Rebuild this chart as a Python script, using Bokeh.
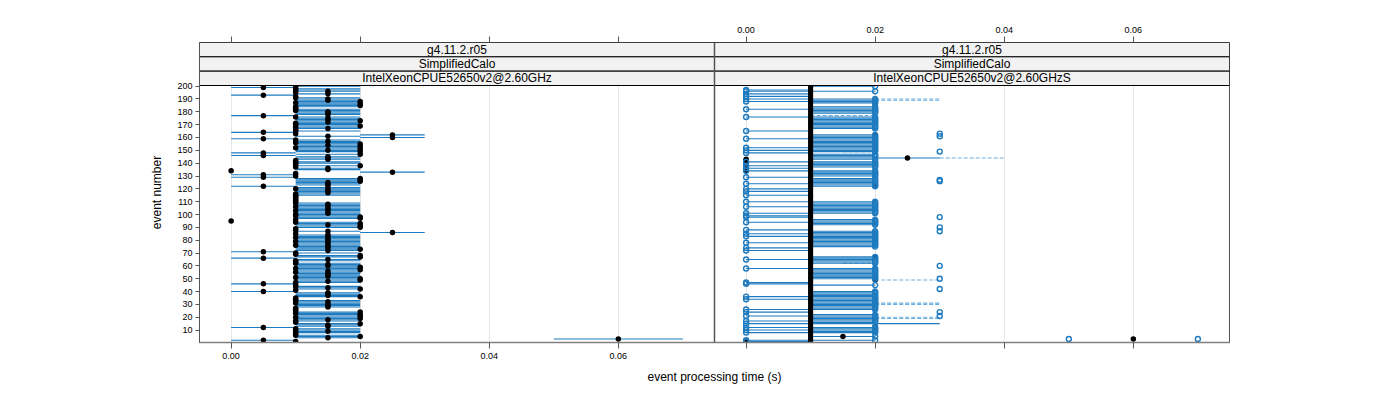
from bokeh.plotting import figure
from bokeh.models import Range1d, FixedTicker, LinearAxis, Span
from bokeh.embed import file_html
from bokeh.resources import INLINE
from bokeh.core.properties import value

# ---------------- data (times in milliseconds) ----------------
events = list(range(1, 201))

strip_rows = ["g4.11.2.r05", "SimplifiedCalo"]
panel_hosts = ["IntelXeonCPUE52650v2@2.60GHz", "IntelXeonCPUE52650v2@2.60GHzS"]

# left panel: median per event and its range
left_val = [
    10, 5, 60, 15, 20, 10, 10, 10, 15, 10,
    10, 5, 15, 15, 20, 10, 10, 15, 20, 10,
    20, 20, 10, 20, 10, 10, 10, 15, 15, 15,
    10, 15, 10, 10, 10, 20, 15, 15, 15, 5,
    10, 20, 15, 10, 10, 5, 10, 15, 20, 20,
    10, 15, 15, 15, 10, 15, 20, 10, 20, 15,
    15, 10, 10, 10, 15, 5, 20, 20, 10, 10,
    5, 15, 20, 15, 15, 10, 15, 15, 10, 15,
    15, 10, 15, 15, 10, 25, 15, 10, 10, 20,
    20, 15, 20, 10, 0, 10, 20, 20, 10, 10,
    15, 15, 10, 15, 15, 10, 15, 15, 10, 10,
    10, 10, 10, 10, 10, 10, 15, 15, 15, 10,
    15, 5, 15, 15, 15, 20, 20, 20, 5, 10,
    5, 10, 25, 0, 15, 15, 10, 20, 10, 10,
    10, 10, 15, 15, 15, 5, 20, 5, 20, 15,
    20, 10, 20, 15, 20, 10, 15, 10, 5, 25,
    15, 25, 10, 5, 10, 10, 15, 10, 20, 10,
    10, 15, 20, 15, 15, 10, 5, 15, 15, 15,
    10, 10, 10, 10, 20, 20, 10, 20, 15, 15,
    10, 10, 5, 15, 10, 15, 10, 10, 5, 10,
]
left_lo = [
    10, 0, 50, 10, 10, 10, 10, 10, 10, 10,
    10, 0, 10, 10, 10, 10, 10, 10, 10, 10,
    10, 10, 10, 10, 10, 10, 10, 10, 10, 10,
    10, 10, 10, 10, 10, 10, 10, 10, 10, 0,
    10, 10, 10, 10, 10, 0, 10, 10, 10, 10,
    10, 10, 10, 10, 10, 10, 10, 10, 10, 10,
    10, 10, 10, 10, 10, 0, 10, 10, 10, 10,
    0, 10, 10, 10, 10, 10, 10, 10, 10, 10,
    10, 10, 10, 10, 10, 20, 10, 10, 10, 10,
    10, 10, 10, 10, 0, 10, 10, 10, 10, 10,
    10, 10, 10, 10, 10, 10, 10, 10, 10, 10,
    10, 10, 10, 10, 10, 10, 10, 10, 10, 10,
    10, 0, 10, 10, 10, 10, 10, 10, 0, 10,
    0, 10, 20, 0, 10, 10, 10, 10, 10, 10,
    10, 10, 10, 10, 10, 0, 10, 0, 10, 10,
    10, 10, 10, 10, 10, 10, 10, 10, 0, 20,
    10, 20, 10, 0, 10, 10, 10, 10, 10, 10,
    10, 10, 10, 10, 10, 10, 0, 10, 10, 10,
    10, 10, 10, 10, 10, 10, 10, 10, 10, 10,
    10, 10, 0, 10, 10, 10, 10, 10, 0, 10,
]
left_hi = [
    10, 10, 70, 20, 20, 20, 10, 20, 20, 20,
    20, 10, 20, 20, 20, 10, 20, 20, 20, 20,
    20, 20, 20, 20, 10, 10, 10, 20, 20, 20,
    20, 20, 20, 10, 10, 20, 20, 20, 20, 10,
    10, 20, 20, 20, 10, 10, 20, 20, 20, 20,
    20, 20, 20, 20, 20, 20, 20, 20, 20, 20,
    20, 20, 10, 20, 20, 10, 20, 20, 10, 20,
    10, 20, 20, 20, 20, 20, 20, 20, 20, 20,
    20, 20, 20, 20, 10, 30, 20, 10, 10, 20,
    20, 20, 20, 20, 0, 10, 20, 20, 20, 20,
    20, 20, 20, 20, 20, 20, 20, 20, 20, 10,
    10, 10, 10, 10, 20, 20, 20, 20, 20, 20,
    20, 10, 20, 20, 20, 20, 20, 20, 10, 10,
    10, 10, 30, 0, 20, 20, 10, 20, 10, 20,
    20, 10, 20, 20, 20, 10, 20, 10, 20, 20,
    20, 20, 20, 20, 20, 20, 20, 20, 10, 30,
    20, 30, 10, 10, 20, 10, 20, 20, 20, 20,
    20, 20, 20, 20, 20, 20, 10, 20, 20, 20,
    20, 20, 10, 20, 20, 20, 20, 20, 20, 20,
    20, 10, 10, 20, 10, 20, 20, 20, 10, 20,
]

# right panel: median per event and its range
right_val = [
    10, 10, 10, 10, 10, 10, 10, 10, 10, 10,
    10, 10, 10, 10, 10, 10, 10, 10, 10, 10,
    10, 10, 10, 10, 10, 10, 10, 10, 10, 10,
    10, 10, 10, 10, 10, 10, 10, 10, 10, 10,
    10, 10, 10, 10, 10, 10, 10, 10, 10, 10,
    10, 10, 10, 10, 10, 10, 10, 10, 10, 10,
    10, 10, 10, 10, 10, 10, 10, 10, 10, 10,
    10, 10, 10, 10, 10, 10, 10, 10, 10, 10,
    10, 10, 10, 10, 10, 10, 10, 10, 10, 10,
    10, 10, 10, 10, 10, 10, 10, 10, 10, 10,
    10, 10, 10, 10, 10, 10, 10, 10, 10, 10,
    10, 10, 10, 10, 10, 10, 10, 10, 10, 10,
    10, 10, 10, 10, 10, 10, 10, 10, 10, 10,
    10, 10, 10, 10, 10, 10, 10, 10, 10, 10,
    10, 10, 10, 10, 10, 10, 10, 10, 10, 10,
    10, 10, 10, 10, 10, 10, 10, 10, 10, 10,
    10, 10, 10, 10, 10, 10, 10, 10, 10, 10,
    10, 10, 10, 10, 10, 10, 10, 10, 10, 10,
    10, 10, 10, 10, 10, 10, 10, 10, 10, 10,
    10, 10, 10, 10, 10, 10, 10, 10, 10, 10,
]
right_lo = [
    0, 0, 10, 10, 10, 10, 10, 0, 10, 0,
    10, 0, 10, 10, 0, 10, 0, 10, 10, 10,
    0, 10, 10, 0, 10, 0, 10, 10, 10, 10,
    10, 10, 10, 0, 10, 0, 10, 10, 10, 10,
    10, 10, 10, 10, 10, 0, 0, 10, 10, 10,
    10, 10, 10, 10, 10, 10, 10, 0, 10, 10,
    10, 10, 10, 10, 0, 10, 10, 10, 10, 10,
    10, 0, 10, 0, 10, 10, 10, 0, 10, 10,
    10, 10, 0, 10, 0, 10, 10, 0, 10, 10,
    10, 10, 10, 0, 10, 10, 10, 0, 0, 10,
    0, 10, 10, 10, 10, 0, 10, 10, 10, 0,
    10, 10, 10, 10, 0, 10, 10, 0, 10, 0,
    10, 10, 10, 0, 10, 10, 10, 10, 0, 10,
    10, 10, 10, 0, 10, 0, 10, 0, 10, 10,
    0, 10, 10, 10, 10, 10, 10, 0, 10, 0,
    10, 0, 10, 10, 10, 10, 10, 10, 0, 10,
    10, 10, 10, 10, 0, 10, 10, 10, 10, 10,
    10, 10, 10, 10, 10, 0, 10, 10, 10, 10,
    10, 0, 10, 10, 10, 10, 10, 0, 10, 0,
    10, 0, 10, 0, 10, 0, 0, 10, 10, 10,
]
right_hi = [
    10, 20, 10, 10, 20, 10, 10, 20, 20, 20,
    20, 20, 10, 10, 30, 20, 20, 20, 20, 20,
    20, 20, 10, 10, 10, 20, 20, 20, 20, 20,
    20, 20, 20, 20, 20, 20, 20, 20, 20, 20,
    10, 10, 10, 10, 20, 10, 10, 10, 10, 20,
    20, 20, 20, 20, 20, 20, 20, 20, 10, 10,
    10, 20, 20, 20, 20, 20, 20, 10, 10, 10,
    10, 10, 10, 10, 20, 20, 20, 20, 20, 20,
    20, 20, 20, 20, 20, 20, 20, 10, 10, 10,
    10, 20, 20, 20, 20, 20, 10, 10, 10, 10,
    20, 20, 20, 20, 20, 20, 20, 20, 20, 20,
    10, 10, 10, 10, 10, 10, 10, 10, 10, 10,
    10, 20, 20, 20, 20, 20, 20, 20, 10, 20,
    20, 20, 20, 20, 10, 10, 20, 20, 20, 20,
    20, 10, 20, 30, 20, 20, 20, 10, 20, 20,
    20, 20, 20, 20, 20, 20, 20, 20, 20, 20,
    20, 20, 10, 10, 10, 10, 20, 20, 20, 20,
    20, 20, 20, 20, 20, 20, 10, 10, 20, 20,
    20, 20, 20, 20, 10, 10, 20, 20, 20, 20,
    10, 10, 10, 10, 10, 20, 10, 10, 10, 20,
]
# right panel: further black medians
right_blk_ev = [1, 3, 5, 144, 134, 136, 137, 139, 140, 142, 143, 186, 187, 157, 159, 160, 162, 150, 124, 122, 80, 67, 51, 49, 13]
right_blk_val = [0, 60, 15, 25, 0, 0, 0, 0, 0, 0, 0, 20, 20, 20, 20, 20, 20, 20, 20, 20, 20, 20, 20, 20, 20]
# right panel: isolated open circles
right_out_ev = [163, 161, 149, 127, 126, 98, 90, 87, 60, 50, 42, 24, 21, 3, 3]
right_out_val = [30, 30, 30, 30, 30, 30, 30, 30, 30, 30, 30, 30, 30, 50, 70]
# right panel: dashed extensions
right_dash_ev = [190, 189, 177, 149, 144, 62, 49, 31, 30, 20, 19]
right_dash_lo = [20, 20, 10, 15, 30, 15, 20, 20, 20, 20, 20]
right_dash_hi = [30, 30, 20, 20, 40, 20, 30, 30, 30, 30, 30]

tick_vals = [0.0, 0.02, 0.04, 0.06]
tick_labels = ["0.00", "0.02", "0.04", "0.06"]
y_ticks = [10, 20, 30, 40, 50, 60, 70, 80, 90, 100, 110, 120, 130, 140, 150, 160, 170, 180, 190, 200]

# ---------------- layout constants ----------------
XMIN, XMAX = -0.0049, 0.0749
OFF = XMAX - XMIN
YMIN, YMAX = 0.3, 200.5
STRIP_H = 11.166
YTOP = YMAX + 3 * STRIP_H

BLUE = "#1f7bbf"
LIGHT = "#6aaee0"
FONT = "Liberation Sans"

def s(v, shift=0.0):
    return [x / 1000.0 + shift for x in v]

p = figure(width=1249, height=392,
           x_range=Range1d(XMIN, XMIN + 2 * OFF), y_range=Range1d(YMIN, YTOP),
           output_backend="svg", toolbar_location=None,
           min_border_left=199, min_border_right=20, min_border_top=42, min_border_bottom=50)
p.background_fill_color = "white"
p.outline_line_color = "#555555"

ticks_all = tick_vals + [t + OFF for t in tick_vals]
bottom_over = {}
top_over = {}
for t, lab in zip(tick_vals, tick_labels):
    bottom_over[t] = lab
    top_over[t] = ""
for t, lab in zip(tick_vals, tick_labels):
    bottom_over[t + OFF] = ""
    top_over[t + OFF] = lab

bottom_axis = p.below[0]
bottom_axis.ticker = FixedTicker(ticks=ticks_all)
bottom_axis.major_label_overrides = bottom_over
top_axis = LinearAxis(ticker=FixedTicker(ticks=ticks_all), major_label_overrides=top_over)
p.add_layout(top_axis, "above")

for ax in [bottom_axis, top_axis]:
    ax.axis_line_color = "#808080"
    ax.axis_line_width = 1.5
    ax.major_tick_line_color = "#555555"
    ax.major_tick_out = 6
    ax.major_tick_in = 0
    ax.minor_tick_line_color = None
    ax.major_label_text_font = FONT
    ax.major_label_text_font_size = "9px"
    ax.major_label_text_color = "black"
    ax.major_label_standoff = 4
top_axis.axis_line_color = None

bottom_axis.axis_label = "event processing time (s)"
bottom_axis.axis_label_text_font = FONT
bottom_axis.axis_label_text_font_size = "12px"
bottom_axis.axis_label_text_font_style = "normal"
bottom_axis.axis_label_text_color = "black"
bottom_axis.axis_label_standoff = 8

p.yaxis.ticker = FixedTicker(ticks=y_ticks)
p.yaxis.axis_label = "event number"
p.yaxis.axis_label_text_font = FONT
p.yaxis.axis_label_text_font_size = "12px"
p.yaxis.axis_label_text_font_style = "normal"
p.yaxis.axis_label_text_color = "black"
p.yaxis.axis_label_standoff = 10
p.yaxis.axis_line_color = "#555555"
p.yaxis.major_tick_line_color = "#555555"
p.yaxis.major_tick_out = 4
p.yaxis.major_tick_in = 0
p.yaxis.minor_tick_line_color = None
p.yaxis.major_label_text_font = FONT
p.yaxis.major_label_text_font_size = "9px"
p.yaxis.major_label_text_color = "black"
p.yaxis.major_label_standoff = 3

p.xgrid.ticker = FixedTicker(ticks=ticks_all)
p.xgrid.grid_line_color = "#e6e6e6"
p.ygrid.grid_line_color = None

# ---------------- left panel ----------------
p.segment(x0=s(left_lo), y0=events, x1=s(left_hi), y1=events, line_color=BLUE, line_width=1.1)
p.scatter(x=s(left_val), y=events, size=5.5, fill_color="black", line_color=None)

# ---------------- right panel ----------------
p.segment(x0=s(right_dash_lo, OFF), y0=right_dash_ev, x1=s(right_dash_hi, OFF), y1=right_dash_ev,
          line_color=LIGHT, line_width=1.1, line_dash="4 2")
p.segment(x0=s(right_lo, OFF), y0=events, x1=s(right_hi, OFF), y1=events, line_color=BLUE, line_width=1.1)
p.scatter(x=s(right_val, OFF), y=events, size=5, fill_color="black", line_color=None)
p.scatter(x=s(right_blk_val, OFF), y=right_blk_ev, size=5.5, fill_color="black", line_color=None)

circ_ev = []
circ_val = []
for e, lo, hi in zip(events, right_lo, right_hi):
    if lo == 0:
        circ_ev.append(e)
        circ_val.append(lo)
    if hi == 20:
        circ_ev.append(e)
        circ_val.append(hi)
circ_ev += right_out_ev
circ_val += right_out_val
p.scatter(x=s(circ_val, OFF), y=circ_ev, size=5, fill_color=None, line_color=BLUE, line_width=1.4)

# ---------------- strips ----------------
for k, host in enumerate(panel_hosts):
    x0 = XMIN + k * OFF
    x1 = x0 + OFF
    labels = strip_rows + [host]
    for r, lab in enumerate(labels):
        top = YTOP - r * STRIP_H
        bot = top - STRIP_H
        p.quad(left=[x0], right=[x1], bottom=[bot], top=[top],
               fill_color="#f2f2f2", line_color="black", line_width=1)
        p.text(x=[(x0 + x1) / 2], y=[(top + bot) / 2], text=[lab],
               text_font=value(FONT), text_font_size=value("12px"),
               text_align="center", text_baseline="middle", text_color="black")

p.add_layout(Span(location=XMAX, dimension="height", line_color="#555555", line_width=1.5))

open("out.html", "w").write(file_html(p, INLINE))
